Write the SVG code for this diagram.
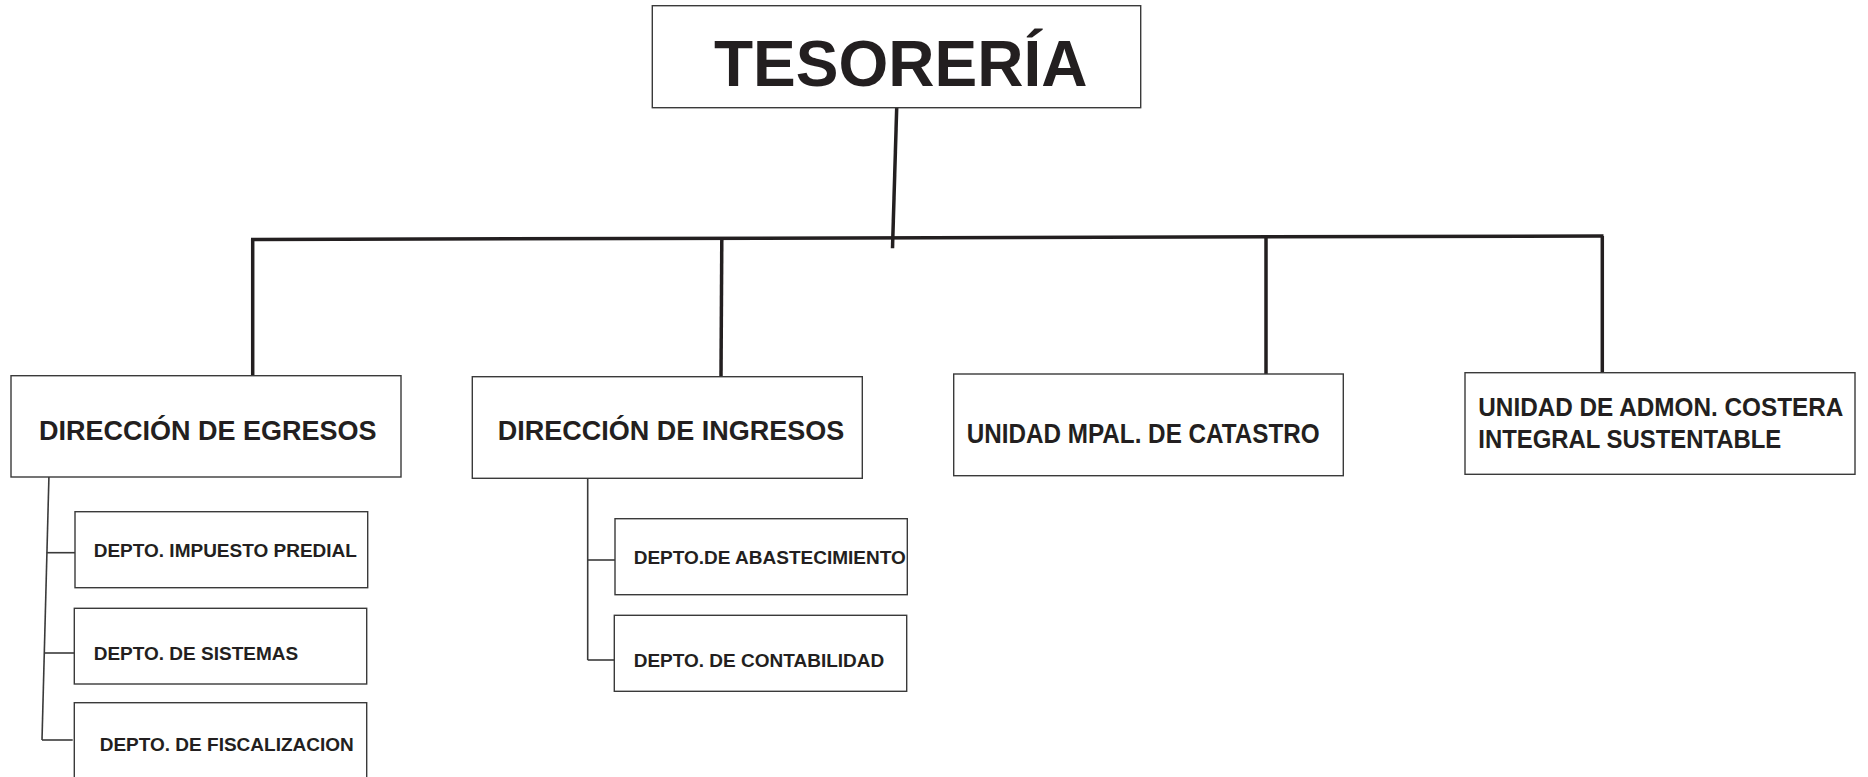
<svg xmlns="http://www.w3.org/2000/svg" width="1868" height="777" viewBox="0 0 1868 777">
<style>
.box{fill:#fff;stroke:#3a3a3a;stroke-width:1.4}
.t{font-family:"Liberation Sans",Arial,sans-serif;font-weight:bold;fill:#231f20}
.main{stroke:#231f20;stroke-width:3.5;fill:none}
.sub{stroke:#3a3a3a;stroke-width:1.6;fill:none}
</style>
<rect width="1868" height="777" fill="#fff"/>
<g id="connectors">
<line class="main" x1="896.7" y1="107.7" x2="892.5" y2="248.3"/>
<line class="main" x1="251" y1="239.5" x2="1603.5" y2="236"/>
<line class="main" x1="252.7" y1="239" x2="252.7" y2="375.5"/>
<line class="main" x1="721.8" y1="239" x2="721" y2="376.5"/>
<line class="main" x1="1266" y1="237" x2="1266" y2="374"/>
<line class="main" x1="1602.3" y1="236" x2="1602.3" y2="373"/>
<line class="sub" x1="49" y1="474" x2="42" y2="740"/>
<line class="sub" x1="46.8" y1="552.7" x2="76.7" y2="552.7"/>
<line class="sub" x1="44.8" y1="653" x2="74.3" y2="653"/>
<line class="sub" x1="42" y1="740" x2="72.7" y2="740"/>
<line class="sub" x1="587.7" y1="478" x2="587.7" y2="660"/>
<line class="sub" x1="587.7" y1="560" x2="616.7" y2="560"/>
<line class="sub" x1="587.7" y1="660" x2="614.3" y2="660"/>
</g>
<g id="tesoreria">
<rect class="box" x="652.3" y="5.7" width="488.4" height="102"/>
<text class="t" x="714" y="85.7" font-size="64">TESORERÍA</text>
</g>
<g id="egresos">
<rect class="box" x="11" y="375.7" width="390" height="101.3"/>
<text class="t" x="39" y="440" font-size="27">DIRECCIÓN DE EGRESOS</text>
</g>
<g id="ingresos">
<rect class="box" x="472.3" y="376.7" width="390" height="101.6"/>
<text class="t" x="497.7" y="440" font-size="27">DIRECCIÓN DE INGRESOS</text>
</g>
<g id="catastro">
<rect class="box" x="953.7" y="374" width="389.6" height="101.7"/>
<text class="t" x="966.7" y="443.3" font-size="27" textLength="353" lengthAdjust="spacingAndGlyphs">UNIDAD MPAL. DE CATASTRO</text>
</g>
<g id="costera">
<rect class="box" x="1465" y="372.7" width="390" height="101.6"/>
<text class="t" x="1478.3" y="415.7" font-size="26.5" textLength="365" lengthAdjust="spacingAndGlyphs">UNIDAD DE ADMON. COSTERA</text>
<text class="t" x="1478.3" y="447.7" font-size="26.5" textLength="303" lengthAdjust="spacingAndGlyphs">INTEGRAL SUSTENTABLE</text>
</g>
<g id="predial">
<rect class="box" x="75" y="511.7" width="292.7" height="76"/>
<text class="t" x="93.7" y="556.7" font-size="19">DEPTO. IMPUESTO PREDIAL</text>
</g>
<g id="sistemas">
<rect class="box" x="74.3" y="608.3" width="292.4" height="75.7"/>
<text class="t" x="93.7" y="660" font-size="19">DEPTO. DE SISTEMAS</text>
</g>
<g id="fiscalizacion">
<rect class="box" x="74.3" y="702.7" width="292.4" height="90"/>
<text class="t" x="99.7" y="750.7" font-size="19">DEPTO. DE FISCALIZACION</text>
</g>
<g id="abastecimiento">
<rect class="box" x="615" y="518.7" width="292.3" height="76"/>
<text class="t" x="633.7" y="564" font-size="19">DEPTO.DE ABASTECIMIENTO</text>
</g>
<g id="contabilidad">
<rect class="box" x="614.3" y="615.3" width="292.4" height="76"/>
<text class="t" x="633.7" y="666.7" font-size="19">DEPTO. DE CONTABILIDAD</text>
</g>
</svg>
